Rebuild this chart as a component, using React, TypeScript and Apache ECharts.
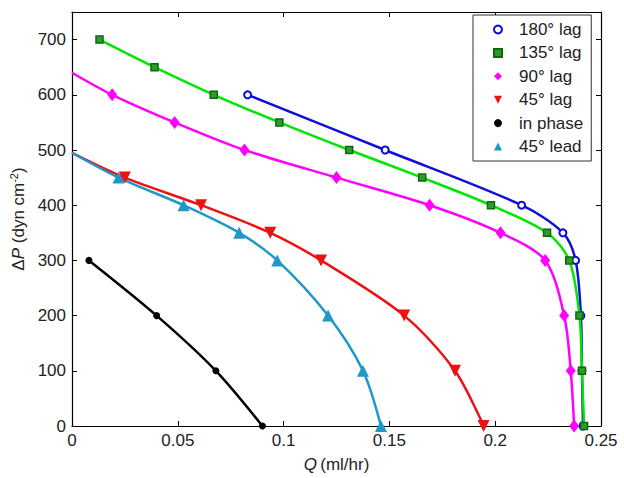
import React, { useEffect, useRef } from "react";
import * as echarts from "echarts";

const seriesNames = ["180° lag", "135° lag", "90° lag", "45° lag", "in phase", "45° lead"];

const q180 = [0.083, 0.148, 0.2125, 0.232, 0.238, 0.2405, 0.241, 0.2415];
const p180 = [600, 500, 400, 350, 300, 200, 100, 0];

const q135 = [0.013, 0.039, 0.067, 0.098, 0.131, 0.1655, 0.198, 0.2245, 0.235, 0.2398, 0.241, 0.242];
const p135 = [700, 650, 600, 550, 500, 450, 400, 350, 300, 200, 100, 0];

const q90 = [0, 0.019, 0.0485, 0.0815, 0.125, 0.169, 0.2025, 0.2236, 0.2326, 0.2357, 0.2373];
const p90 = [640, 600, 550, 500, 450, 400, 350, 300, 200, 100, 0];

const q45lag = [0, 0.025, 0.061, 0.0937, 0.1177, 0.157, 0.181, 0.1945];
const p45lag = [495, 450, 400, 350, 300, 200, 100, 0];

const qPhase = [0.008, 0.04, 0.068, 0.09];
const pPhase = [300, 200, 100, 0];

const q45lead = [0, 0.022, 0.0527, 0.079, 0.097, 0.121, 0.1375, 0.146];
const p45lead = [495, 450, 400, 350, 300, 200, 100, 0];

const xTicks = [0, 0.05, 0.1, 0.15, 0.2, 0.25];
const yTicks = [0, 100, 200, 300, 400, 500, 600, 700];

function pts(q: number[], p: number[], noMarkerFirst = false) {
  return q.map((x, i) =>
    noMarkerFirst && i === 0 ? { value: [x, p[i]], symbol: "none" } : { value: [x, p[i]] }
  );
}

export default function App() {
  const ref = useRef<HTMLDivElement>(null);
  useEffect(() => {
    const chart = echarts.init(ref.current!, undefined, { renderer: "svg" });
    const font = "Liberation Sans, Arial, sans-serif";
    const base = {
      type: "line",
      smooth: 0.3,
      lineStyle: { width: 2.5 },
    };
    const tick = { show: true, inside: true, length: 5, lineStyle: { color: "#000" } };
    const axisLine = { show: true, onZero: false, lineStyle: { color: "#000", width: 1.2 } };
    const option: any = {
      animation: false,
      backgroundColor: "#fff",
      textStyle: { fontFamily: font },
      grid: { left: 70, right: 23, top: 12, bottom: 52, containLabel: false },
      legend: {
        left: 473,
        top: 15,
        orient: "vertical",
        backgroundColor: "#fff",
        borderColor: "#333",
        borderWidth: 1,
        borderRadius: 0,
        padding: [6, 8, 6, 12],
        itemWidth: 24,
        itemHeight: 10,
        itemGap: 6.4,
        lineStyle: { opacity: 0 },
        textStyle: { fontSize: 17, color: "#222", fontFamily: font, padding: [0, 0, 0, 4] },
        data: seriesNames,
      },
      xAxis: [
        {
          type: "value",
          min: 0,
          max: 0.25,
          interval: 0.05,
          name: "{i|Q} {a|(ml/hr)}",
          nameLocation: "middle",
          nameGap: 30,
          nameTextStyle: {
            rich: {
              i: { fontSize: 17, fontStyle: "italic", color: "#222", fontFamily: font },
              a: { fontSize: 17, color: "#222", fontFamily: font },
            },
          },
          axisLine,
          axisTick: tick,
          axisLabel: {
            fontSize: 17,
            color: "#222",
            margin: 6,
            formatter: (v: number) => (xTicks.some((t) => Math.abs(t - v) < 1e-9) ? String(+v.toFixed(2)) : ""),
          },
          splitLine: { show: false },
        },
        {
          type: "value",
          position: "top",
          min: 0,
          max: 0.25,
          interval: 0.05,
          axisLine,
          axisTick: tick,
          axisLabel: { show: false },
          splitLine: { show: false },
        },
      ],
      yAxis: [
        {
          type: "value",
          min: 0,
          max: 750,
          interval: 100,
          name: "{d|Δ}{i|P}{a| (dyn cm}{s|-2}{a|)}",
          nameLocation: "middle",
          nameRotate: 90,
          nameGap: 44,
          nameTextStyle: {
            rich: {
              d: { fontSize: 17, color: "#222", fontFamily: font },
              i: { fontSize: 17, fontStyle: "italic", color: "#222", fontFamily: font },
              a: { fontSize: 17, color: "#222", fontFamily: font },
              s: { fontSize: 11, color: "#222", fontFamily: font, padding: [0, 0, 9, 0] },
            },
          },
          axisLine,
          axisTick: { ...tick, customValues: yTicks },
          axisLabel: {
            fontSize: 17,
            color: "#222",
            margin: 6,
            formatter: (v: number) => (yTicks.includes(v) ? String(v) : ""),
          },
          splitLine: { show: false },
        },
        {
          type: "value",
          position: "right",
          min: 0,
          max: 750,
          interval: 100,
          axisLine,
          axisTick: { ...tick, customValues: yTicks },
          axisLabel: { show: false },
          splitLine: { show: false },
        },
      ],
      series: [
        {
          ...base,
          name: seriesNames[0],
          data: pts(q180, p180),
          symbol: "circle",
          symbolSize: 7,
          color: "#0a0ae0",
          lineStyle: { width: 2.5, color: "#1010dd" },
          itemStyle: { color: "#fff", borderColor: "#0a0ae0", borderWidth: 2 },
          z: 2,
        },
        {
          ...base,
          name: seriesNames[1],
          data: pts(q135, p135),
          symbol: "rect",
          symbolSize: 7,
          color: "#1a8a1a",
          lineStyle: { width: 2.5, color: "#00e600" },
          itemStyle: { color: "#2f9a2f", borderColor: "#0b6b0b", borderWidth: 1.5 },
          z: 3,
        },
        {
          ...base,
          name: seriesNames[2],
          data: pts(q90, p90, true),
          symbol: "diamond",
          symbolSize: [10, 13],
          color: "#ff00ff",
          lineStyle: { width: 2.5, color: "#ff00ff" },
          itemStyle: { color: "#ff00ff" },
        },
        {
          ...base,
          name: seriesNames[3],
          data: pts(q45lag, p45lag, true),
          symbol: "triangle",
          symbolRotate: 180,
          symbolSize: 12,
          color: "#ee1111",
          lineStyle: { width: 2.5, color: "#ee1111" },
          itemStyle: { color: "#ee1111" },
        },
        {
          ...base,
          name: seriesNames[4],
          data: pts(qPhase, pPhase),
          symbol: "circle",
          symbolSize: 7,
          color: "#000",
          lineStyle: { width: 2.5, color: "#000" },
          itemStyle: { color: "#000" },
        },
        {
          ...base,
          name: seriesNames[5],
          data: pts(q45lead, p45lead, true),
          symbol: "triangle",
          symbolSize: 12,
          color: "#1e98c8",
          lineStyle: { width: 2.5, color: "#1e98c8" },
          itemStyle: { color: "#1e98c8" },
        },
      ],
    };
    chart.setOption(option);
    return () => chart.dispose();
  }, []);
  return <div ref={ref} style={{ position: "absolute", left: 0, top: 0, width: 624, height: 478 }} />;
}
